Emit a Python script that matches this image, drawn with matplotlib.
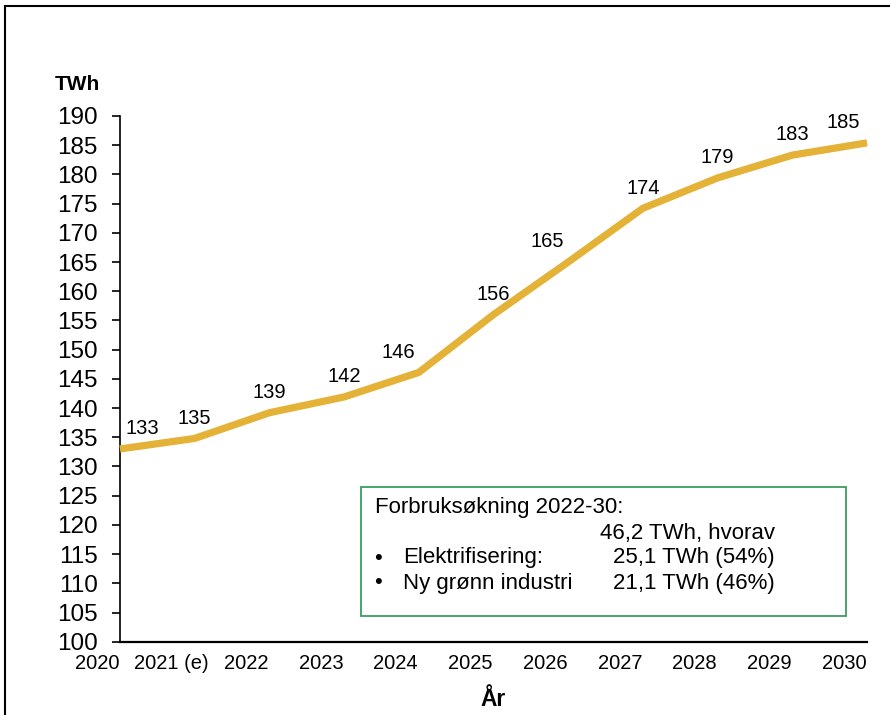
import matplotlib
matplotlib.use("Agg")
import matplotlib.pyplot as plt
from matplotlib.patches import Rectangle
from matplotlib.transforms import ScaledTranslation

plt.rcParams["font.family"] = ["Liberation Sans", "DejaVu Sans"]

# data
years = [2020, 2021, 2022, 2023, 2024, 2025, 2026, 2027, 2028, 2029, 2030]
year_labels = ["2020", "2021 (e)", "2022", "2023", "2024", "2025",
               "2026", "2027", "2028", "2029", "2030"]
twh = [133.0, 134.8, 139.2, 141.9, 146.1, 156.0, 165.0, 174.2, 179.4, 183.3, 185.4]

box_title = "Forbruksøkning 2022-30:"
box_total = "46,2 TWh, hvorav"
box_items = ["Elektrifisering:", "Ny grønn industri"]
box_values = ["25,1 TWh (54%)", "21,1 TWh (46%)"]

# label shifts (points) so labels clear the line like in the original
label_dx = [16, 0, 0, 0, -15, 0, -15, 0, 0, 0, -17]

gold = "#E3B236"
green = "#3C9C5E"

fig = plt.figure(figsize=(8.9, 7.15), dpi=100)
ax = fig.add_axes([0.1348, 0.1025, 0.9742 - 0.1348, 0.8378 - 0.1025])

ax.plot(years, twh, color=gold, lw=5.2, solid_joinstyle="miter",
        solid_capstyle="butt", clip_on=False, zorder=3)
for x, v, dx in zip(years, twh, label_dx):
    ax.annotate(f"{v:.0f}", (x, v), xytext=(dx, 14.5), textcoords="offset points",
                ha="center", va="center", fontsize=14.5)

ax.set_xlim(2020, 2030)
ax.set_ylim(100, 190)
ax.set_yticks(range(100, 191, 5))
ax.tick_params(axis="y", labelsize=17.5, length=6, width=1.2, pad=10, direction="out")
ax.set_xticks(years)
ax.set_xticklabels(year_labels)
ax.tick_params(axis="x", labelsize=14.5, length=0, pad=8.5)
# the category labels sit a bit left of the data points in the original
shift = ScaledTranslation(-0.23, 0, fig.dpi_scale_trans)
for lab in ax.get_xticklabels():
    lab.set_transform(lab.get_transform() + shift)

for s in ["top", "right"]:
    ax.spines[s].set_visible(False)
ax.spines["left"].set_linewidth(1.2)
ax.spines["bottom"].set_linewidth(1.6)

fig.text(77 / 890, 1 - 85 / 715, "TWh", ha="center", va="center",
         fontsize=15, fontweight="bold")
fig.text(493 / 890, 1 - 700 / 715, "År", ha="center", va="center",
         fontsize=16.5, fontweight="bold")

# info box
fig.patches.append(Rectangle((361 / 890, 1 - 616 / 715), (846 - 361) / 890, (616 - 487) / 715,
                             transform=fig.transFigure, fill=False, edgecolor=green, lw=1.3))
fs = 16
fig.text(375 / 890, 1 - 508 / 715, box_title, ha="left", va="center", fontsize=fs)
fig.text(775 / 890, 1 - 533 / 715, box_total, ha="right", va="center", fontsize=fs)
for i, (item, val) in enumerate(zip(box_items, box_values)):
    yy = 1 - (558 + 25 * i) / 715
    fig.text(378 / 890, yy, "•", ha="center", va="center", fontsize=fs)
    fig.text(403 / 890, yy, item, ha="left", va="center", fontsize=fs)
    fig.text(775 / 890, yy, val, ha="right", va="center", fontsize=fs)

# outer frame of the slide
fig.patches.append(Rectangle((5 / 890, -0.1), 1.2, 1.1 - 6 / 715,
                             transform=fig.transFigure, fill=False, edgecolor="black", lw=1.5))

fig.savefig("out.png", dpi=100)
